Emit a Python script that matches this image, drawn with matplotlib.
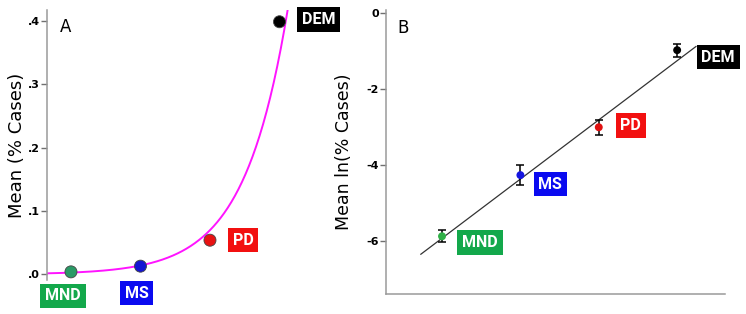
import numpy as np
import matplotlib
matplotlib.use("Agg")
import matplotlib.pyplot as plt
from matplotlib.ticker import FuncFormatter

plt.rcParams['axes.unicode_minus'] = False
plt.rcParams['font.family'] = ['DejaVu Sans']

# data
groups = ["MND", "MS", "PD", "DEM"]
group_pos = [1, 2, 3, 4]
mean_pct = [0.004, 0.013, 0.054, 0.399]          # panel A
mean_ln = [-5.87, -4.26, -3.00, -0.97]            # panel B
ln_err = [0.16, 0.26, 0.20, 0.17]                 # panel B error bars
# fitted curves
exp_a, exp_b = 0.000575, 1.60                     # A: y = a*exp(b*x)
lin_slope, lin_icept = 1.558, -7.48               # B: y = icept + slope*x
lin_range = [0.73, 4.24]

label_colors = ["#13a84b", "#0a0af0", "#f21010", "#000000"]
dot_colors_a = ["#2a9a66", "#1414d2", "#e81212", "#000000"]
dot_colors_b = ["#2fb046", "#1414e0", "#e01010", "#000000"]
off_a = [(-8, -24), (-4, -27), (33, 0), (39, 2)]
off_b = [(38, -6), (30, -9), (32, 2), (41, -7)]

spine_col = "#9a9a9a"

fig = plt.figure(figsize=(7.46, 3.14), dpi=100)
axA = fig.add_axes([0.0626, 0.108, 0.34, 0.860])
axB = fig.add_axes([0.5174, 0.0637, 0.4544, 0.9045])


def label_box(ax, x, y, txt, col, off):
    ax.annotate(txt, xy=(x, y), xytext=off,
                textcoords="offset pixels",
                ha="center", va="center", color="white", fontsize=11.5,
                fontweight="bold", family=["Roboto", "DejaVu Sans"],
                bbox=dict(boxstyle="square,pad=0.3", fc=col, ec="none"),
                annotation_clip=False, zorder=5)


def style_axis(ax):
    for s in ["top", "right"]:
        ax.spines[s].set_visible(False)
    ax.spines["left"].set_color(spine_col)
    ax.spines["left"].set_linewidth(1.1)
    ax.spines["bottom"].set_color(spine_col)
    ax.spines["bottom"].set_linewidth(1.1)
    ax.tick_params(axis="y", length=4, width=1, color="#707070",
                   labelsize=8, pad=1)
    for t in ax.get_yticklabels():
        t.set_fontweight("bold")
    ax.set_xticks([])


# ---- panel A
xs = np.linspace(0.6, 4.4, 300)
axA.plot(xs, exp_a * np.exp(exp_b * xs), color="#ff14ff", lw=1.4, zorder=2)
axA.scatter(group_pos, mean_pct, s=75, c=dot_colors_a, edgecolors="#444444",
            linewidths=0.6, zorder=3)
for x, y, g, c, o in zip(group_pos, mean_pct, groups, label_colors, off_a):
    label_box(axA, x, y, g, c, o)
axA.set_xlim(0.651, 4.3)
axA.set_ylim(-0.009, 0.4175)
axA.set_yticks([0, 0.1, 0.2, 0.3, 0.4])
axA.yaxis.set_major_formatter(FuncFormatter(lambda v, p: ("%.1f" % v)[1:]))
style_axis(axA)
axA.spines["bottom"].set_visible(False)
axA.set_ylabel("Mean (% Cases)", fontsize=13, labelpad=1)
axA.text(0.05, 0.97, "A", transform=axA.transAxes, fontsize=12, va="top")

# ---- panel B
lx = np.array(lin_range)
axB.plot(lx, lin_icept + lin_slope * lx, color="#333333", lw=0.9, zorder=2)
axB.errorbar(group_pos, mean_ln, yerr=ln_err, fmt="none", ecolor="black",
             elinewidth=1.1, capsize=3, capthick=1.1, zorder=3)
axB.scatter(group_pos, mean_ln, s=22, c=dot_colors_b, zorder=4)
for x, y, g, c, o in zip(group_pos, mean_ln, groups, label_colors, off_b):
    label_box(axB, x, y, g, c, o)
axB.set_xlim(0.285, 4.61)
axB.set_ylim(-7.39, 0.087)
axB.set_yticks([0, -2, -4, -6])
style_axis(axB)
axB.set_ylabel("Mean ln(% Cases)", fontsize=12.5, labelpad=10)
axB.text(0.035, 0.97, "B", transform=axB.transAxes, fontsize=12, va="top")

fig.savefig("out.png", dpi=100)
